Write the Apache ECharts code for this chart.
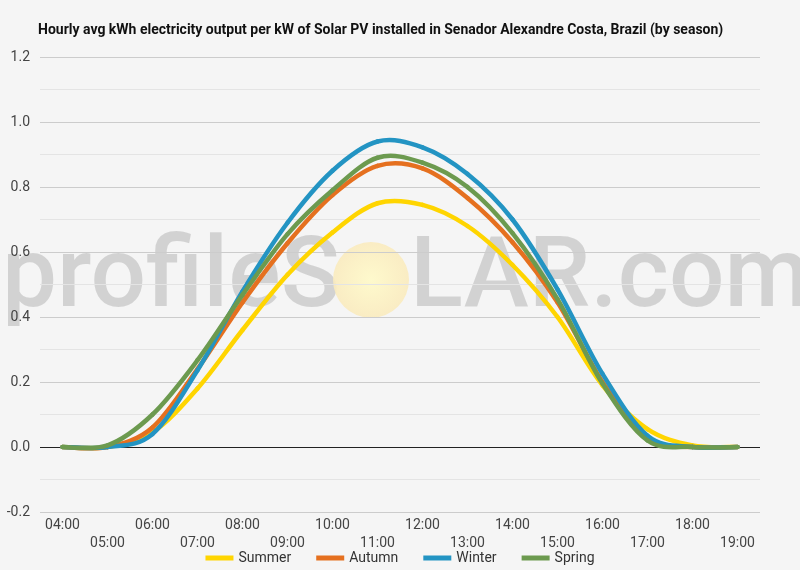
<!DOCTYPE html>
<html>
<head>
<meta charset="utf-8">
<script src="https://cdn.jsdelivr.net/npm/echarts@6/dist/echarts.min.js"></script>
<style>
  html, body { margin: 0; padding: 0; background: #f5f5f5; }
  #chart { width: 800px; height: 570px; }
</style>
</head>
<body>
<div id="chart"></div>
<script>
// hourly categories
const hours = ['04:00', '05:00', '06:00', '07:00', '08:00', '09:00', '10:00', '11:00',
  '12:00', '13:00', '14:00', '15:00', '16:00', '17:00', '18:00', '19:00']
// kWh per kW
const summer = [0, 0, 0.045, 0.18, 0.36, 0.53, 0.66, 0.75, 0.745, 0.68, 0.56, 0.40, 0.19, 0.055, 0.005, 0]
const autumn = [0, 0, 0.06, 0.24, 0.445, 0.627, 0.775, 0.865, 0.857, 0.766, 0.63, 0.445, 0.20, 0.025, 0, 0]
const winter = [0, 0, 0.04, 0.236, 0.479, 0.69, 0.85, 0.94, 0.922, 0.84, 0.70, 0.485, 0.225, 0.035, 0, 0]
const spring = [0, 0.005, 0.10, 0.267, 0.468, 0.655, 0.79, 0.89, 0.875, 0.80, 0.658, 0.455, 0.195, 0.02, 0, 0]
const yTicks = [-0.2, 0, 0.2, 0.4, 0.6, 0.8, 1.0, 1.2]

const seasons = [
  { name: 'Summer', data: summer, color: '#ffd500' },
  { name: 'Autumn', data: autumn, color: '#e5701f' },
  { name: 'Winter', data: winter, color: '#2394c3' },
  { name: 'Spring', data: spring, color: '#6c9a4f' }
]

// catmull-rom style curve through the points, drawn once per series
function splineItem(values, color) {
  return function (params, api) {
    if (params.dataIndex !== 0) return null
    const p = values.map((v, i) => api.coord([i, v]))
    const n = p.length
    const children = []
    for (let i = 0; i < n - 1; i++) {
      const a = p[Math.max(i - 1, 0)]
      const b = p[i]
      const c = p[i + 1]
      const d = p[Math.min(i + 2, n - 1)]
      children.push({
        type: 'bezierCurve',
        shape: {
          x1: b[0], y1: b[1],
          cpx1: b[0] + (c[0] - a[0]) / 6, cpy1: b[1] + (c[1] - a[1]) / 6,
          cpx2: c[0] - (d[0] - b[0]) / 6, cpy2: c[1] - (d[1] - b[1]) / 6,
          x2: c[0], y2: c[1]
        },
        style: { stroke: color, lineWidth: 4.5, fill: null, lineCap: 'round' }
      })
    }
    return { type: 'group', children: children }
  }
}

const chart = echarts.init(document.getElementById('chart'))

const option = {
  backgroundColor: '#f5f5f5',
  textStyle: { fontFamily: 'Roboto' },
  title: {
    text: 'Hourly avg kWh electricity output per kW of Solar PV installed in Senador Alexandre Costa, Brazil (by season)',
    left: 33,
    top: 18,
    textStyle: {
      fontFamily: 'Roboto',
      fontWeight: 'bold',
      fontSize: 14,
      color: '#111'
    }
  },
  // watermark
  graphic: [
    {
      type: 'text',
      left: 2,
      top: 232,
      z: 0,
      silent: true,
      style: {
        text: 'profileS',
        font: '500 98px Roboto',
        fill: 'rgba(0,0,0,0.14)'
      }
    },
    {
      type: 'circle',
      z: 0,
      silent: true,
      shape: { cx: 371, cy: 280, r: 38 },
      style: {
        fill: new echarts.graphic.RadialGradient(0.5, 0.5, 0.5, [
          { offset: 0, color: 'rgba(255,250,200,0.9)' },
          { offset: 1, color: 'rgba(250,235,190,0.9)' }
        ])
      }
    },
    {
      type: 'text',
      left: 410,
      top: 232,
      z: 0,
      silent: true,
      style: {
        text: 'LAR.com',
        font: '500 98px Roboto',
        fill: 'rgba(0,0,0,0.14)'
      }
    }
  ],
  legend: {
    bottom: 0,
    left: 'center',
    icon: 'rect',
    itemWidth: 28,
    itemHeight: 5,
    itemGap: 25,
    textStyle: { fontSize: 14, color: '#333' },
    data: seasons.map(s => ({ name: s.name, itemStyle: { color: s.color } }))
  },
  grid: { left: 40, right: 40, top: 57, bottom: 58 },
  xAxis: {
    type: 'category',
    data: hours,
    boundaryGap: true,
    axisLine: { show: false },
    axisTick: { show: false },
    axisLabel: {
      interval: 0,
      margin: 4,
      fontSize: 14,
      lineHeight: 18,
      color: '#444',
      formatter: (v, i) => (i % 2 ? '\n' + v : v)
    }
  },
  yAxis: {
    type: 'value',
    min: yTicks[0],
    max: yTicks[yTicks.length - 1],
    interval: 0.2,
    axisLine: { show: false },
    axisTick: { show: false },
    axisLabel: {
      fontSize: 14,
      color: '#444',
      margin: 10,
      formatter: v => v.toFixed(1)
    },
    splitLine: {
      lineStyle: {
        color: yTicks.map(t => (t === 0 ? '#222' : '#cccccc')),
        width: 1
      }
    },
    minorTick: { show: false, splitNumber: 2 },
    minorSplitLine: { show: true, lineStyle: { color: '#e4e4e4' } }
  },
  series: seasons.map(s => ({
    name: s.name,
    type: 'custom',
    data: s.data.map((v, i) => [i, v]),
    color: s.color,
    renderItem: splineItem(s.data, s.color),
    z: 3
  }))
}

chart.setOption(option)
</script>
</body>
</html>
